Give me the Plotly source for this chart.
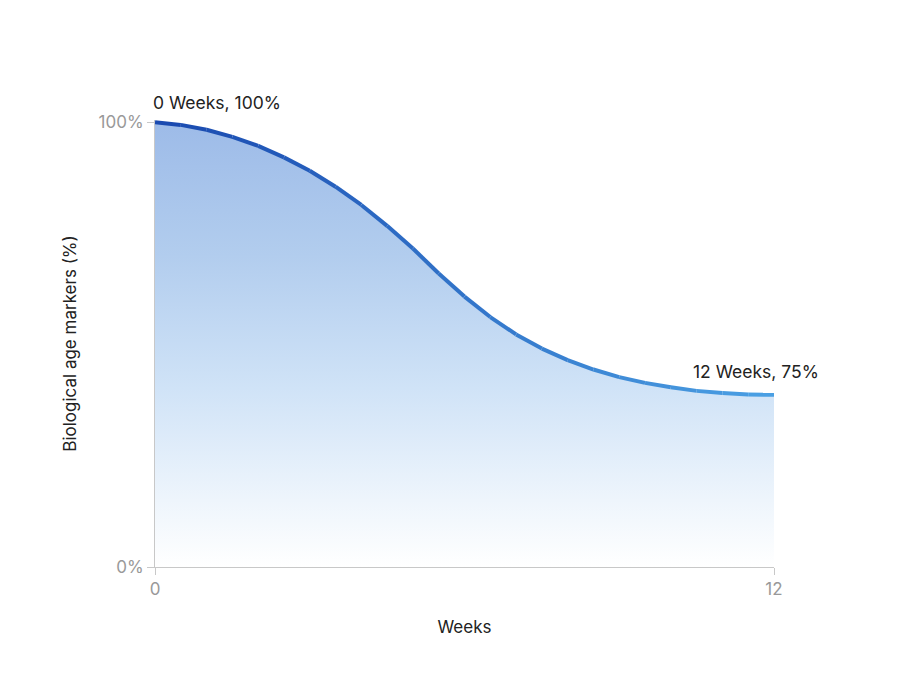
import plotly.graph_objects as go

# values (plotted on the 0-100 axis scale)
weeks = [0, 0.5, 1, 1.5, 2, 2.5, 3, 3.5, 4, 4.5, 5, 5.5, 6, 6.5, 7, 7.5, 8,
         8.5, 9, 9.5, 10, 10.5, 11, 11.5, 12]
markers = [100, 99.4, 98.3, 96.7, 94.7, 92.1, 89.1, 85.5, 81.4, 76.7, 71.6,
           66.0, 60.8, 56.2, 52.3, 49.1, 46.5, 44.4, 42.7, 41.4, 40.4, 39.6,
           39.1, 38.8, 38.7]
end_labels = ["0 Weeks, 100%", "12 Weeks, 75%"]
x_ticks = [0, 12]
y_ticks = [0, 100]
y_ticktext = ["0%", "100%"]

FONT = "Inter, Helvetica, Arial, sans-serif"
c_start = (26, 74, 176)
c_end = (74, 159, 227)

fig = go.Figure()

# gradient area under the curve
fig.add_trace(go.Scatter(
    x=weeks, y=markers, mode="lines", line=dict(width=0, shape="spline"),
    fill="tozeroy",
    fillgradient=dict(type="vertical", start=0, stop=100,
                      colorscale=[[0, "#ffffff"], [0.15, "#eef5fc"],
                                  [0.4, "#d0e3f7"], [0.7, "#b2cdee"],
                                  [1, "#9dbbe8"]]),
    hoverinfo="skip", showlegend=False,
))

# line drawn in short pieces so its colour can shift left -> right
n = len(weeks)
for i in range(n - 1):
    t = i / (n - 2)
    col = "rgb({},{},{})".format(*[round(a + (b - a) * t) for a, b in zip(c_start, c_end)])
    fig.add_trace(go.Scatter(
        x=weeks[i:i + 2], y=markers[i:i + 2], mode="lines",
        line=dict(color=col, width=4),
        hoverinfo="skip", showlegend=False,
    ))

fig.add_annotation(x=weeks[0], y=markers[0], text=end_labels[0], showarrow=False,
                   xanchor="left", yanchor="bottom", xshift=-4, yshift=7,
                   font=dict(size=17.5, color="#222222", family=FONT))
fig.add_annotation(x=weeks[-1], y=markers[-1], text=end_labels[1], showarrow=False,
                   xanchor="center", yanchor="bottom", xshift=-18, yshift=11,
                   font=dict(size=17.5, color="#222222", family=FONT))

fig.update_layout(
    width=913, height=685,
    margin=dict(l=147, r=147, t=112, b=126),
    paper_bgcolor="white", plot_bgcolor="white",
    font=dict(family=FONT),
)
fig.update_xaxes(
    range=[0, 12], tickvals=x_ticks, ticks="outside", ticklen=7,
    tickcolor="#c8c8c8", showline=True, linecolor="#c8c8c8", linewidth=1,
    showgrid=False, zeroline=False,
    tickfont=dict(size=17, color="#999999"),
    title=dict(text="Weeks", font=dict(size=17, color="#222222"), standoff=22),
)
fig.update_yaxes(
    range=[0, 100.5], tickvals=y_ticks, ticktext=y_ticktext, ticks="outside",
    ticklen=7, tickcolor="#c8c8c8", showline=True, linecolor="#c8c8c8",
    linewidth=1, showgrid=False, zeroline=False,
    tickfont=dict(size=17, color="#999999"),
    title=dict(text="Biological age markers (%)", font=dict(size=17, color="#222222"),
               standoff=17),
)

fig.write_html("out.html")
